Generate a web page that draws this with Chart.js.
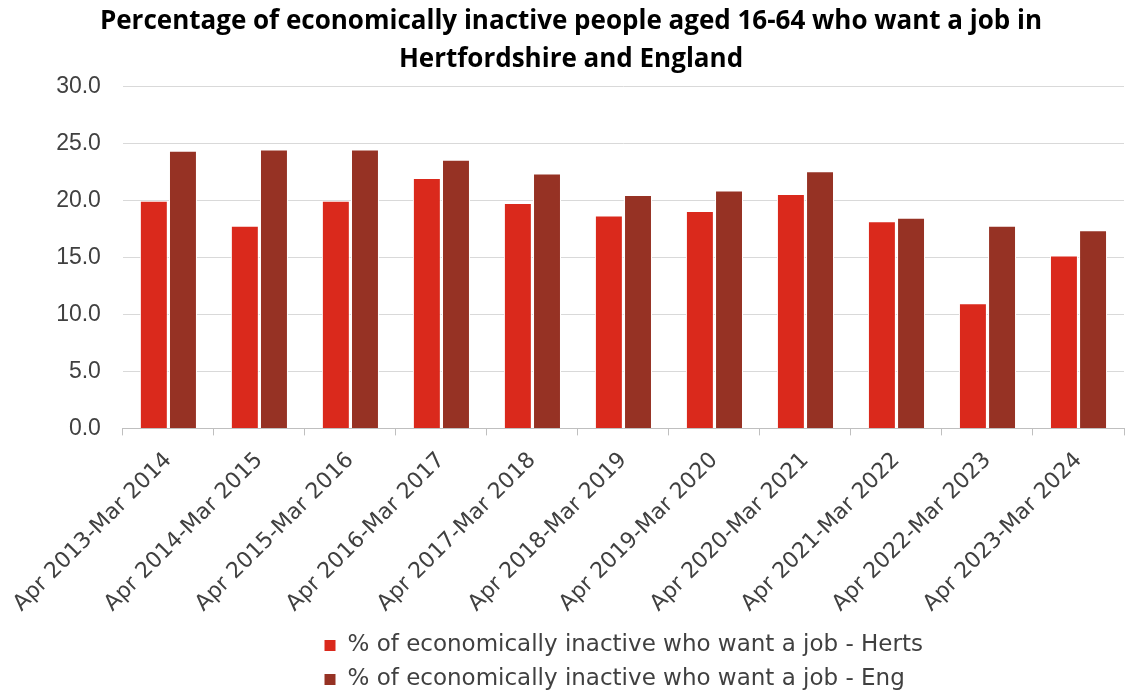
<!DOCTYPE html>
<html>
<head>
<meta charset="utf-8">
<script src="https://cdn.jsdelivr.net/npm/chart.js@4.4.1/dist/chart.umd.min.js"></script>
<style>
  html, body { margin: 0; padding: 0; background: #ffffff; }
  #wrap { width: 1128px; height: 691px; position: relative; }
</style>
</head>
<body>
<div id="wrap"><canvas id="c"></canvas></div>
<script>
const categories = [
  "Apr 2013-Mar 2014", "Apr 2014-Mar 2015", "Apr 2015-Mar 2016", "Apr 2016-Mar 2017",
  "Apr 2017-Mar 2018", "Apr 2018-Mar 2019", "Apr 2019-Mar 2020", "Apr 2020-Mar 2021",
  "Apr 2021-Mar 2022", "Apr 2022-Mar 2023", "Apr 2023-Mar 2024"
];
const hertsValues = [20.0, 17.8, 20.0, 22.0, 19.8, 18.7, 19.1, 20.6, 18.2, 11.0, 15.2];
const engValues   = [24.4, 24.5, 24.5, 23.6, 22.4, 20.5, 20.9, 22.6, 18.5, 17.8, 17.4];
const seriesNames = [
  "% of economically inactive who want a job - Herts",
  "% of economically inactive who want a job - Eng"
];
const titleLines = [
  "Percentage of economically inactive people aged 16-64 who want a job in",
  "Hertfordshire and England"
];
const yTicks = { min: 0, max: 30, step: 5 };

const legendShift = {
  id: 'legendShift',
  afterLayout(chart) {
    const lg = chart.legend;
    if (lg) { lg.left = 313; lg.top -= 6; }
  }
};

new Chart(document.getElementById('c'), {
  type: 'bar',
  data: {
    labels: categories,
    datasets: [
      { label: seriesNames[0], data: hertsValues, backgroundColor: '#DA291C', borderColor: '#ffffff', borderWidth: 1, categoryPercentage: 0.64, barPercentage: 0.96 },
      { label: seriesNames[1], data: engValues, backgroundColor: '#963224', borderColor: '#ffffff', borderWidth: 1, categoryPercentage: 0.64, barPercentage: 0.96 }
    ]
  },
  plugins: [legendShift],
  options: {
    responsive: true,
    maintainAspectRatio: false,
    animation: false,
    layout: { padding: { left: 18, right: 4, top: 0, bottom: -16 } },
    plugins: {
      title: {
        display: true,
        text: titleLines,
        color: '#000000',
        font: { family: 'Open Sans', size: 26, weight: 'bold', lineHeight: 1.46 },
        padding: { top: 3, bottom: 8 }
      },
      legend: {
        position: 'bottom',
        align: 'start',
        labels: {
          color: '#404040',
          font: { family: 'DejaVu Sans', size: 23 },
          boxWidth: 12,
          boxHeight: 12,
          padding: 11,
          useBorderRadius: false
        }
      },
      tooltip: { enabled: false }
    },
    scales: {
      x: {
        offset: true,
        grid: { display: true, drawOnChartArea: false, drawTicks: true, tickLength: 7, color: '#bfbfbf', offset: true },
        border: { display: true, color: '#bfbfbf', width: 1 },
        ticks: {
          color: '#404040',
          font: { family: 'DejaVu Sans', size: 22 },
          minRotation: 45,
          maxRotation: 45,
          padding: 12,
          autoSkip: false
        }
      },
      y: {
        min: yTicks.min,
        max: yTicks.max,
        grid: { color: '#d9d9d9', drawTicks: false, lineWidth: 1 },
        border: { display: false },
        afterFit: (scale) => { scale.width = 102; },
        ticks: {
          stepSize: yTicks.step,
          color: '#404040',
          font: { family: 'Liberation Sans', size: 23 },
          padding: 22,
          callback: (v) => Number(v).toFixed(1)
        }
      }
    }
  }
});
</script>
</body>
</html>
